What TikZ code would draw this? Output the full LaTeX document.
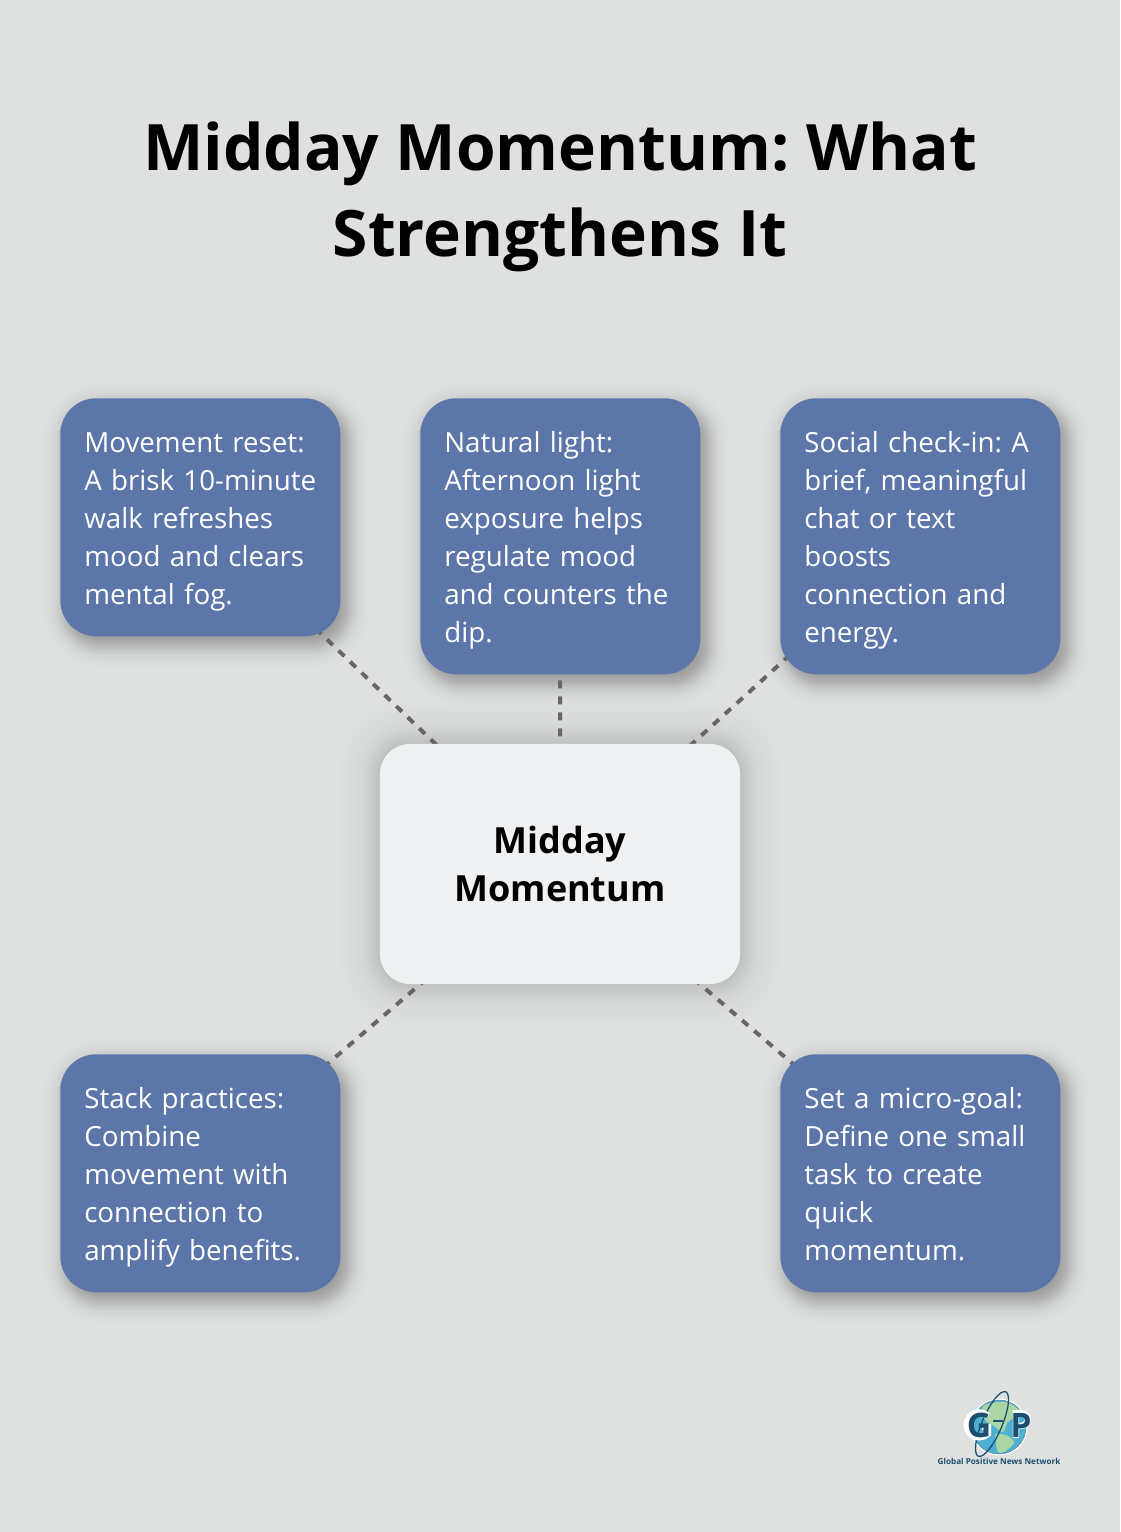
\documentclass[tikz,border=0pt]{standalone}
\usepackage{fontspec}
\usepackage{tikz}
\usetikzlibrary{backgrounds,calc}
\setmainfont{Open Sans}
\definecolor{pagegray}{HTML}{DFE1E0}
\definecolor{cardblue}{HTML}{5D76A9}
\definecolor{coregray}{HTML}{F0F1F3}
\definecolor{linkgray}{HTML}{666666}
\definecolor{logonavy}{HTML}{1C4F6F}
\definecolor{logosea}{HTML}{4FAFD3}
\definecolor{logoland}{HTML}{A9D6A4}
\newcommand{\cardstrut}{\rule[-.2025cm]{0pt}{.95cm}}
\tikzset{
    cardbox/.style = {fill = cardblue, text = white, rounded corners = .9cm, anchor = north west,
        inner sep = .6cm, text width = 5.8cm, align = left,
        font = \fontsize{19.72}{27.03}\selectfont\frenchspacing,
        execute at begin node = \cardstrut, execute at end node = \cardstrut},
    corebox/.style = {fill = coregray, rounded corners = .75cm, minimum width = 9cm, minimum height = 6cm,
        align = center, font = \fontsize{25.6}{34.14}\selectfont\bfseries},
    link/.style = {linkgray, line width = .1cm, dash pattern = on .2cm off .2cm}
}
\begin{document}
\begin{tikzpicture}[x = .025cm, y = -.025cm]
            \node (title) [align = center, font = \fontsize{45.55}{61.2}\selectfont\bfseries\frenchspacing]
            at (560,197) {Midday Momentum: What\\Strengthens It};

            \node (movement) [cardbox] at (60,398) {Movement reset:\\A brisk 10-minute\\walk refreshes\\mood and clears\\mental fog.};
            \node (light) [cardbox] at (420,398) {Natural light:\\Afternoon light\\exposure helps\\regulate mood\\and counters the\\dip.};
            \node (social) [cardbox] at (780,398) {Social check-in: A\\brief, meaningful\\chat or text\\boosts\\connection and\\energy.};
            \node (stack) [cardbox] at (60,1054) {Stack practices:\\Combine\\movement with\\connection to\\amplify benefits.};
            \node (goal) [cardbox] at (780,1054) {Set a micro-goal:\\Define one small\\task to create\\quick\\momentum.};
            \node (core) [corebox] at (560,864) {Midday\\Momentum};

            \begin{scope}[on background layer]
            \fill [pagegray] (0,0) rectangle (1120,1532);

            \foreach \s/\o in {-24/.01,-21/.01,-18/.01,-15/.01,-12/.01,-10/.01,-8/.01,-6/.01,-4/.01,-2/.01,
            1/.01,3/.01,5.5/.01,7.6/.01,10/.01,12.4/.01,15/.01,18/.008,21/.006,24/.005,27/.004,30/.004,33/.003,36/.003,39/.002,42/.002}
            \fill [black, opacity = \o, rounded corners = {max(30+\s,0)*.7113pt}]
            ($(core.south west)+(-\s,\s)$) rectangle ($(core.north east)+(\s,-\s)$);

            \foreach \n in {movement, light, social, stack, goal}
            \foreach \s/\o in {-16/.016,-13.8/.016,-11.8/.016,-10/.016,-8.4/.016,-6.8/.016,-5.5/.016,-4.2/.016,-3/.016,-1.8/.016,-.6/.016,
            .6/.016,1.8/.016,3/.016,4.2/.016,5.5/.016,6.8/.016,8.4/.016,10/.014,12/.012,14/.01,16/.008,18/.006,20/.004,22/.003,24/.002}
            \fill [black, opacity = \o, rounded corners = {(36+\s)*.7113pt}]
            ($(\n.south west)+(6-\s,8+\s)$) rectangle ($(\n.north east)+(6+\s,8-\s)$);

            \draw [link] (movement.center) -- (core.center);
            \draw [link] (light.center) -- (core.center);
            \draw [link] (social.center) -- (core.center);
            \draw [link] (core.center) -- (stack.center);
            \draw [link] (core.center) -- (goal.center);
            \end{scope}

            \fill [white] (999,1427) circle (28.5);
            \fill [logosea, draw = logonavy!70, line width = .4pt] (999,1427) circle (27);
            \fill [logoland] plot [smooth cycle] coordinates {(983,1406) (1006,1402) (1020,1412)
            (1008,1422) (1003,1432) (994,1426) (985,1420)};
            \fill [logoland] plot [smooth cycle] coordinates {(996,1434) (1008,1436)
            (1014,1443) (1004,1452) (998,1452) (996,1443)};

            \draw [logonavy, line width = .9pt, rotate around = {67:(992,1424)}]
            (992,1424) ellipse (35 and 10);
            \draw [white, line width = 4.5pt] (988,1416) arc (-45:-315:12.5) -- (988,1427) -- (982,1427);
            \draw [white, line width = 4.5pt] (1016,1438) -- (1016,1413) -- (1021,1413)
            arc (-90:90:6.5) -- (1016,1426);
            \draw [logonavy, line width = 1.6pt] (993,1421) -- (1003,1421);

            \node (logog) [text = logonavy, inner sep = 0, font = \fontsize{24}{30}\selectfont\bfseries] at (979,1425) {G};
            \node (logop) [text = logonavy, inner sep = 0, font = \fontsize{24}{30}\selectfont\bfseries] at (1021,1425) {P};
            \node (logoname) [text = logonavy, inner sep = 0, font = \fontsize{5.8}{8}\selectfont\bfseries] at (999,1461) {Global Positive News Network};

            \pgfresetboundingbox
            \useasboundingbox (0,0) rectangle (1120,1532);
        \end{tikzpicture}
\end{document}
